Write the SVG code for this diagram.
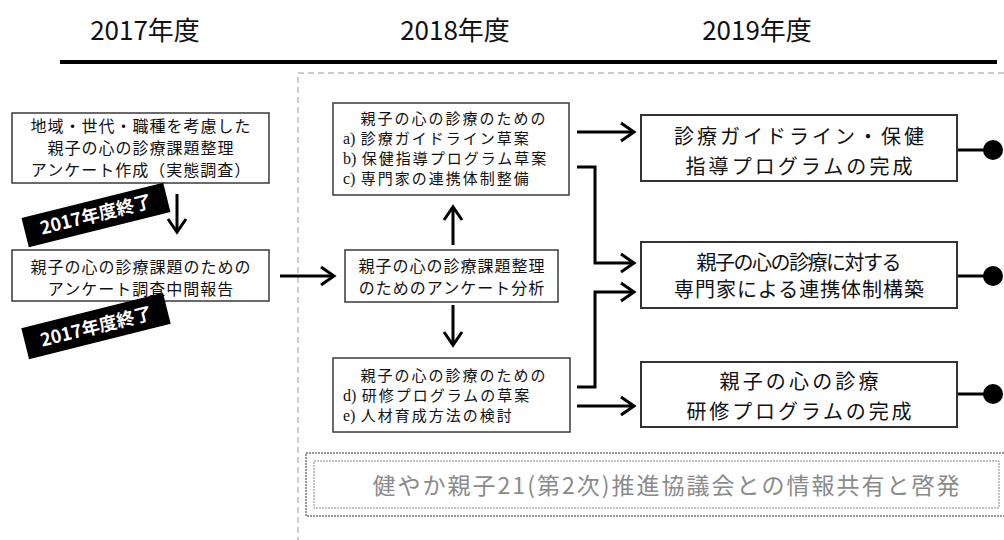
<svg xmlns="http://www.w3.org/2000/svg" width="1004" height="540" viewBox="0 0 1004 540">
<defs>
<style>
.jp{font-family:"Noto Sans CJK JP","Liberation Sans",sans-serif;fill:#111}
.hd{font-size:26px;text-anchor:middle}
.bx{fill:#fff;stroke:#3a3a3a;stroke-width:1.5}
.rbx{fill:#fff;stroke:#333;stroke-width:2}
.t16{font-size:16px;letter-spacing:1px}
.t15{font-size:15px;letter-spacing:2px}
.t20{font-size:20px;text-anchor:middle}
.c{text-anchor:middle}
.ser{font-family:"Liberation Serif",serif;letter-spacing:0;font-size:16px}
.conn{fill:none;stroke:#000;stroke-width:3}
.lbl{fill:#000}
.lt{font-family:"Noto Sans CJK JP","Liberation Sans",sans-serif;font-size:18px;font-weight:bold;fill:#fff;text-anchor:middle}
</style>
<marker id="ah" markerUnits="userSpaceOnUse" markerWidth="24" markerHeight="24" viewBox="0 0 24 24" refX="19" refY="12" orient="auto">
<path d="M6,3 L19,12 L6,21" fill="none" stroke="#000" stroke-width="3"/>
</marker>
</defs>

<g id="header">
<text class="jp hd" x="145" y="40">2017年度</text>
<text class="jp hd" x="455" y="40">2018年度</text>
<text class="jp hd" x="757" y="40">2019年度</text>
<line x1="60" y1="62" x2="997" y2="62" stroke="#000" stroke-width="4"/>
</g>

<g id="frame">
<path d="M1004,73 H298 V540" fill="none" stroke="#999" stroke-width="1" stroke-dasharray="6 4"/>
</g>

<g id="connectors">
<line class="conn" x1="177" y1="194" x2="177" y2="232" marker-end="url(#ah)"/>
<line class="conn" x1="280" y1="276" x2="334" y2="276" marker-end="url(#ah)"/>
<line class="conn" x1="453" y1="245" x2="453" y2="207" marker-end="url(#ah)"/>
<line class="conn" x1="453" y1="305" x2="453" y2="345" marker-end="url(#ah)"/>
<line class="conn" x1="577" y1="132" x2="634" y2="132" marker-end="url(#ah)"/>
<path class="conn" d="M577,167 H595 V263 H634" marker-end="url(#ah)"/>
<path class="conn" d="M577,387 H595 V292 H634" marker-end="url(#ah)"/>
<line class="conn" x1="577" y1="406" x2="634" y2="406" marker-end="url(#ah)"/>
<line class="conn" x1="957" y1="150" x2="993" y2="150"/>
<circle cx="993" cy="150" r="10" fill="#000"/>
<line class="conn" x1="957" y1="276" x2="993" y2="276"/>
<circle cx="993" cy="276" r="10" fill="#000"/>
<line class="conn" x1="957" y1="394" x2="993" y2="394"/>
<circle cx="993" cy="394" r="10" fill="#000"/>
</g>

<g id="box-survey-create">
<rect class="bx" x="12" y="113" width="257" height="70"/>
<text class="jp t16 c" x="141" y="132">地域・世代・職種を考慮した</text>
<text class="jp t16 c" x="141" y="154">親子の心の診療課題整理</text>
<text class="jp t16 c" x="141" y="176">アンケート作成（実態調査）</text>
</g>

<g id="box-survey-report">
<rect class="bx" x="12" y="250" width="257" height="51"/>
<text class="jp t16 c" x="141" y="273">親子の心の診療課題のための</text>
<text class="jp t16 c" x="141" y="295">アンケート調査中間報告</text>
</g>

<g id="label-end-1">
<g transform="translate(96,215) rotate(-14)">
<rect class="lbl" x="-73" y="-15" width="146" height="30"/>
<text class="lt" x="0" y="6">2017年度終了</text>
</g>
</g>

<g id="label-end-2">
<g transform="translate(96,326) rotate(-14)">
<rect class="lbl" x="-73" y="-16" width="146" height="32"/>
<text class="lt" x="0" y="7">2017年度終了</text>
</g>
</g>

<g id="box-draft-abc">
<rect class="bx" x="333" y="103" width="236" height="92"/>
<text class="jp t15 c" x="454" y="124">親子の心の診療のための</text>
<text class="jp t15" x="343" y="144"><tspan class="ser">a)</tspan> 診療ガイドライン草案</text>
<text class="jp t15" x="343" y="164"><tspan class="ser">b)</tspan> 保健指導プログラム草案</text>
<text class="jp t15" x="343" y="184"><tspan class="ser">c)</tspan> 専門家の連携体制整備</text>
</g>

<g id="box-analysis">
<rect class="bx" x="345" y="250" width="213" height="52"/>
<text class="jp t16 c" x="452" y="272">親子の心の診療課題整理</text>
<text class="jp t16 c" x="452" y="294">のためのアンケート分析</text>
</g>

<g id="box-draft-de">
<rect class="bx" x="333" y="358" width="237" height="74"/>
<text class="jp t15 c" x="454" y="381">親子の心の診療のための</text>
<text class="jp t15" x="343" y="401"><tspan class="ser">d)</tspan> 研修プログラムの草案</text>
<text class="jp t15" x="343" y="421"><tspan class="ser">e)</tspan> 人材育成方法の検討</text>
</g>

<g id="box-guideline">
<rect class="rbx" x="641" y="115" width="316" height="66"/>
<text class="jp t20" x="799" y="144" textLength="250" lengthAdjust="spacing">診療ガイドライン・保健</text>
<text class="jp t20" x="799" y="174" textLength="227" lengthAdjust="spacing">指導プログラムの完成</text>
</g>

<g id="box-network">
<rect class="rbx" x="641" y="242" width="316" height="66"/>
<text class="jp t20" x="799" y="270" textLength="205" lengthAdjust="spacing">親子の心の診療に対する</text>
<text class="jp t20" x="799" y="297" textLength="250" lengthAdjust="spacing">専門家による連携体制構築</text>
</g>

<g id="box-training">
<rect class="rbx" x="641" y="362" width="316" height="65"/>
<text class="jp t20" x="799" y="389" textLength="159" lengthAdjust="spacing">親子の心の診療</text>
<text class="jp t20" x="799" y="419" textLength="225" lengthAdjust="spacing">研修プログラムの完成</text>
</g>

<g id="box-council">
<rect x="306" y="453" width="720" height="63" fill="none" stroke="#333" stroke-width="1" stroke-dasharray="2 1"/>
<rect x="314" y="461" width="685" height="47" fill="none" stroke="#888" stroke-width="1" stroke-dasharray="2 1"/>
<text class="jp" x="666" y="494" font-size="23" text-anchor="middle" fill="#8a8a8a" style="fill:#8a8a8a" textLength="587" lengthAdjust="spacing">健やか親子21(第2次)推進協議会との情報共有と啓発</text>
</g>
</svg>
